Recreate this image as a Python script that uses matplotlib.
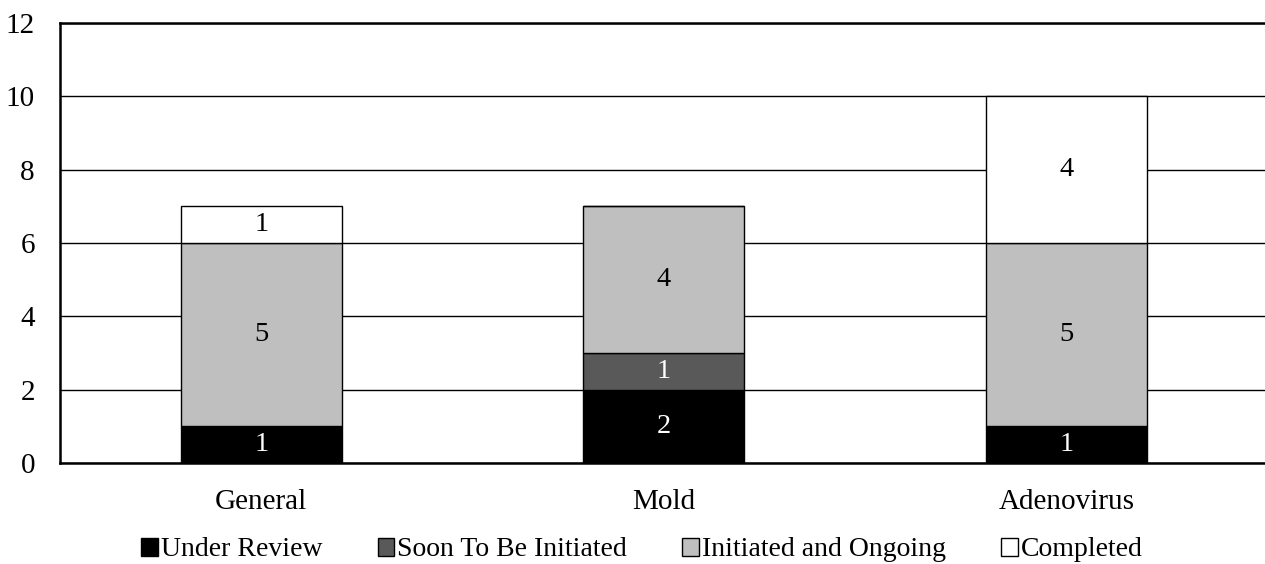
import matplotlib
matplotlib.use("Agg")
import matplotlib.pyplot as plt
import numpy as np

categories = ["General", "Mold", "Adenovirus"]
series_names = ["Under Review", "Soon To Be Initiated", "Initiated and Ongoing", "Completed"]
under_review = [1, 2, 1]
soon_initiated = [0, 1, 0]
ongoing = [5, 4, 5]
completed = [1, 0, 4]
yticks = [0, 2, 4, 6, 8, 10, 12]

colors = ["#000000", "#595959", "#bfbfbf", "#ffffff"]
label_colors = ["white", "white", "black", "black"]

plt.rcParams["font.family"] = ["Liberation Serif", "DejaVu Serif"]

fig = plt.figure(figsize=(12.65, 5.64), dpi=100)
ax = fig.add_axes([60 / 1265, 1 - 463 / 564, 1 - 60 / 1265 + 0.002, (463 - 23) / 564])

x = np.arange(len(categories))
width = 0.4
bottom = np.zeros(len(categories))
handles = []
for vals, name, col, lc in zip([under_review, soon_initiated, ongoing, completed],
                               series_names, colors, label_colors):
    vals = np.array(vals, dtype=float)
    bars = ax.bar(x, vals, width, bottom=bottom, color=col, edgecolor="black",
                  linewidth=1.0, label=name, zorder=3)
    handles.append(bars)
    for xi, v, b in zip(x, vals, bottom):
        if v > 0:
            ax.text(xi, b + v / 2, f"{int(v)}", ha="center", va="center",
                    fontsize=20.5, color=lc, zorder=4)
    bottom += vals

ax.set_xlim(-0.5, 2.5)
ax.set_ylim(0, 12)
ax.set_yticks(yticks)
ax.set_xticks(x)
ax.set_xticklabels(categories)
ax.tick_params(axis="both", length=0, labelsize=21)
ax.tick_params(axis="y", pad=18)
ax.tick_params(axis="x", pad=19)
ax.yaxis.grid(True, color="black", linewidth=1.0, zorder=0)
ax.set_axisbelow(True)
for s in ["left", "bottom", "top"]:
    ax.spines[s].set_linewidth(1.8)
    ax.spines[s].set_color("black")
ax.spines["right"].set_visible(False)

leg = fig.legend(handles=handles, labels=series_names, loc="center",
                 bbox_to_anchor=(0.5075, 1 - 550 / 564), ncol=4, frameon=False,
                 fontsize=20, handlelength=0.6, handleheight=0.6,
                 handletextpad=0.1, columnspacing=2.0, borderpad=0)
for h in leg.legend_handles:
    h.set_linewidth(1.0)

fig.savefig("out.png", dpi=100)
